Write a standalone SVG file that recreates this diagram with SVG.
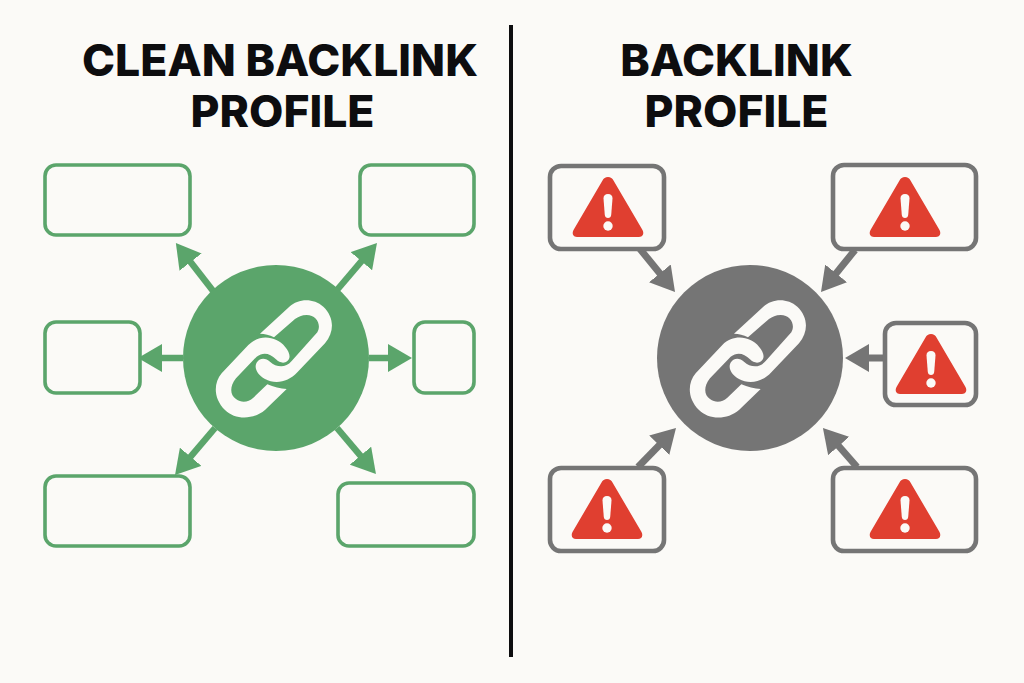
<svg xmlns="http://www.w3.org/2000/svg" width="1024" height="683" viewBox="0 0 1024 683">
<style>
.t{font-family:Inter,"Liberation Sans",sans-serif;font-weight:800;font-size:44.500px;fill:#0d0d0f;text-anchor:middle}
.gb{fill:#fbfaf7;stroke:#5ba56b;stroke-width:3.6}
.rb{fill:#fbfaf7;stroke:#757575;stroke-width:4.6}
.gl{stroke:#5ba56b;stroke-width:6.500;fill:none;marker-end:url(#ga)}
.rl{stroke:#757575;stroke-width:7;fill:none;marker-end:url(#ra)}
</style>
<defs>
<marker id="ga" markerUnits="userSpaceOnUse" markerWidth="24" markerHeight="28" viewBox="0 0 24 28" refX="14" refY="14" orient="auto"><path d="M0 0L24 14L0 28Z" fill="#5ba56b"/></marker>
<marker id="ra" markerUnits="userSpaceOnUse" markerWidth="24" markerHeight="28" viewBox="0 0 24 28" refX="14" refY="14" orient="auto"><path d="M0 0L24 14L0 28Z" fill="#757575"/></marker>
<g id="warn"><path d="M0 0C2.500 0 4.500 1.500 5.500 3.500L34.500 53C36.500 57 34.500 60 31 60H-31C-34.500 60 -36.500 57 -34.500 53L-5.500 3.500C-4.500 1.500 -2.500 0 0 0Z" fill="#e03f30"/><path d="M-4.500 21.500Q-4.500 17 0 17Q4.500 17 4.500 21.500L3.200 38Q2.800 41 0 41Q-2.800 41 -3.200 38Z" fill="#fbfaf7"/><circle cx="0" cy="49" r="4.700" fill="#fbfaf7"/></g>
<g id="lk" fill="#fbfaf7" transform="scale(0.33333)">
<path d="M150 116L238 35C265 10 310 8 340 35C372 65 375 110 345 145L262 232C235 262 195 268 165 252C140 238 130 215 142 200C150 188 168 188 180 200C198 216 225 222 245 198L322 112C335 90 320 60 290 60C275 60 265 65 255 72L192 127C178 120 165 116 150 116Z"/>
<path d="M230 282L165 345C130 375 75 375 45 345C10 310 10 265 35 235L115 150C150 115 200 125 225 155C240 172 243 190 232 198C222 207 208 203 198 193C180 175 160 170 140 185L78 250C58 275 60 300 78 312C95 325 115 322 130 308L172 268C190 275 212 282 230 282Z"/>
</g>
</defs>
<rect width="1024" height="683" fill="#fbfaf7"/>
<g id="divider"><line x1="511" y1="25" x2="511" y2="657" stroke="#0d0d0f" stroke-width="4"/></g>
<g id="title-left"><text class="t" x="280" y="76">CLEAN BACKLINK</text><text class="t" x="282.500" y="126.500">PROFILE</text></g>
<g id="title-right"><text class="t" x="736.500" y="76">BACKLINK</text><text class="t" x="736.500" y="126.500">PROFILE</text></g>
<g id="connectors">
<line class="gl" x1="217" y1="296" x2="182" y2="251"/>
<line class="gl" x1="337" y1="290" x2="370.500" y2="250.600"/>
<line class="gl" x1="183" y1="358" x2="148" y2="358"/>
<line class="gl" x1="369" y1="358" x2="402" y2="358"/>
<line class="gl" x1="215" y1="428" x2="181.500" y2="467.400"/>
<line class="gl" x1="337" y1="428" x2="369.500" y2="466.400"/>
<line class="rl" x1="640" y1="249" x2="668.700" y2="284.200"/>
<line class="rl" x1="855" y1="250" x2="827.300" y2="284.200"/>
<line class="rl" x1="885" y1="358" x2="855" y2="358"/>
<line class="rl" x1="638" y1="467" x2="669" y2="435.200"/>
<line class="rl" x1="857" y1="467" x2="829.500" y2="435.500"/>
</g>
<g id="hub-clean"><circle cx="276" cy="358" r="93" fill="#5ba56b"/><use href="#lk" x="210" y="295"/></g>
<g id="hub-toxic"><circle cx="750" cy="358" r="93" fill="#757575"/><use href="#lk" x="684" y="295"/></g>
<g id="clean-1"><rect class="gb" x="45" y="165" width="145" height="70" rx="11"/></g>
<g id="clean-2"><rect class="gb" x="360" y="165" width="114" height="70" rx="11"/></g>
<g id="clean-3"><rect class="gb" x="45" y="322" width="95" height="71" rx="11"/></g>
<g id="clean-4"><rect class="gb" x="414" y="322" width="60" height="71" rx="11"/></g>
<g id="clean-5"><rect class="gb" x="45" y="476" width="145" height="70" rx="11"/></g>
<g id="clean-6"><rect class="gb" x="338" y="483" width="136" height="63" rx="11"/></g>
<g id="toxic-1"><rect class="rb" x="550" y="166" width="114" height="83" rx="11"/><use href="#warn" x="608" y="177"/></g>
<g id="toxic-2"><rect class="rb" x="833" y="165" width="143" height="84" rx="11"/><use href="#warn" x="905" y="177"/></g>
<g id="toxic-3"><rect class="rb" x="885" y="323" width="91" height="82" rx="11"/><use href="#warn" x="931" y="334"/></g>
<g id="toxic-4"><rect class="rb" x="550" y="468" width="114" height="83" rx="11"/><use href="#warn" x="607" y="479"/></g>
<g id="toxic-5"><rect class="rb" x="833" y="468" width="143" height="83" rx="11"/><use href="#warn" x="905" y="479"/></g>
</svg>
